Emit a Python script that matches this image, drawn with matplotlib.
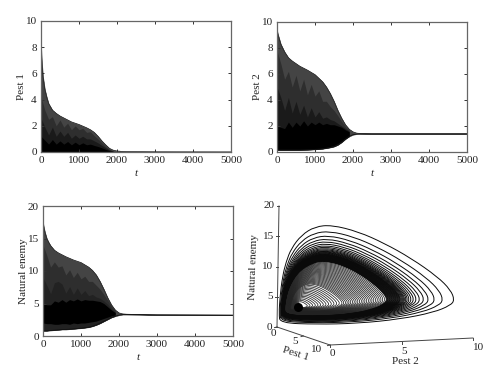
import numpy as np
import matplotlib
matplotlib.use("Agg")
import matplotlib.pyplot as plt
from matplotlib.path import Path
from matplotlib.patches import PathPatch

plt.rcParams['font.family'] = ['Liberation Serif', 'DejaVu Serif']
plt.rcParams['font.size'] = 8

# ---------- time-series envelopes ----------
t = [0, 20, 50, 100, 150, 200, 300, 400, 500, 600, 800, 1000, 1200, 1300, 1400,
     1500, 1600, 1700, 1800, 1900, 2000, 2100, 2200, 2500, 3000, 5000]
pest1_upper = [8.2, 7, 5.8, 4.8, 4.2, 3.7, 3.2, 2.95, 2.75, 2.6, 2.3, 2.1, 1.85, 1.7, 1.5,
               1.2, .85, .55, .28, .14, .08, .05, .04, .03, .02, .01]
pest1_lower = [.02] * 26
pest2_upper = [9.4, 9.1, 8.8, 8.3, 8.0, 7.7, 7.25, 7.0, 6.8, 6.6, 6.3, 5.95, 5.4, 5.0, 4.5,
               3.9, 3.2, 2.6, 2.1, 1.75, 1.55, 1.45, 1.42, 1.4, 1.4, 1.4]
pest2_lower = [.15, .15, .15, .15, .15, .15, .15, .15, .15, .15, .17, .2, .25, .3, .35,
               .42, .55, .75, 1, 1.2, 1.33, 1.38, 1.4, 1.4, 1.4, 1.4]
enemy_upper = [17.5, 16.8, 16, 15, 14.4, 13.9, 13.2, 12.8, 12.5, 12.2, 11.7, 11.3, 10.6, 10.1, 9.4,
               8.4, 7.2, 5.9, 4.8, 4, 3.55, 3.4, 3.35, 3.3, 3.25, 3.2]
enemy_lower = [.8, .8, .8, .8, .85, .85, .9, .95, 1, 1, 1.1, 1.2, 1.35, 1.5, 1.7,
               1.95, 2.25, 2.55, 2.85, 3.05, 3.2, 3.3, 3.3, 3.3, 3.25, 3.2]

# inner, darker overlapping bands (uneven tops)
tj = [0, 100, 200, 300, 400, 500, 600, 700, 800, 900, 1000, 1100, 1200, 1300, 1400,
      1500, 1600, 1700, 1800, 1900]
pest1_mid = [4.2, 3.2, 2.5, 2.7, 2.0, 2.45, 1.9, 2.2, 1.7, 2.0, 1.7, 1.8, 1.5, 1.55, 1.25, 1.0, .7, .42, .2, .08]
pest1_dark = [2.6, 1.9, 1.3, 1.9, 1.2, 1.6, 1.2, 1.5, 1.05, 1.3, 1.05, 1.2, 1.0, 1.0, .85, .7, .5, .32, .15, .06]
pest1_black = [1.2, .9, .6, .95, .6, .85, .6, .8, .55, .75, .55, .7, .55, .6, .5, .42, .32, .2, .1, .04]
pest2_mid = [7.8, 6.8, 5.6, 6.2, 5.0, 5.9, 4.7, 5.6, 4.4, 5.2, 4.3, 4.7, 3.9, 3.9, 3.5, 3.2, 2.8, 2.35, 1.95, 1.7]
pest2_dark = [5.0, 4.2, 3.2, 4.2, 3.0, 3.9, 2.9, 3.6, 2.7, 3.4, 2.7, 3.1, 2.6, 2.7, 2.5, 2.4, 2.2, 2.0, 1.8, 1.6]
pest2_black_top = [2.0, 1.9, 1.8, 2.3, 1.9, 2.3, 2.0, 2.4, 2.0, 2.3, 2.1, 2.3, 2.1, 2.2, 2.1, 2.1, 2.0, 1.9, 1.7, 1.55]
pest2_black_low = [.2, .2, .2, .2, .2, .2, .2, .2, .22, .22, .25, .25, .3, .35, .42, .5, .65, .85, 1.05, 1.25]
enemy_mid = [14, 12.4, 10.6, 11.4, 10.6, 10.8, 9.4, 10.2, 9.0, 9.8, 8.8, 9.2, 8.4, 8.4, 7.8, 7.2, 6.4, 5.5, 4.6, 3.9]
enemy_dark = [9, 7.8, 6.5, 8.2, 8.4, 8.0, 6.6, 7.6, 6.4, 7.4, 6.4, 7, 6.2, 6.4, 6.0, 5.8, 5.4, 4.9, 4.2, 3.7]
enemy_black_top = [5.0, 4.8, 4.8, 5.4, 5.2, 5.6, 5.2, 5.6, 5.4, 5.7, 5.4, 5.6, 5.5, 5.5, 5.4, 5.3, 5.0, 4.5, 4.0, 3.6]
enemy_black_low = [2.0, 1.9, 1.9, 1.8, 1.8, 1.9, 1.9, 1.8, 2.0, 1.9, 2.0, 2.0, 2.1, 2.2, 2.3, 2.5, 2.7, 2.9, 3.1, 3.25]

# ---------- phase portrait: outer and inner loops (pest 1, pest 2, natural enemy) ----------
outer_p1 = [.2, .5, 1.5, 3.5, 6, 8, 8, 7, 5, 3, 2, 1.5, 1, .6, .4, .3, .2, .2, .2, .2]
outer_p2 = [.14, 2.59, 5.02, 7.3, 8.71, 9.13, 9.41, 9.5, 9.31, 8.19, 6.67, 5.02, 3.34, 2.32, 1.46, .8, .49, .25, .1, .05]
outer_n = [.7, .3, .45, 1.5, 3.2, 4.9, 5.75, 7.1, 8.72, 11.3, 13.66, 15.62, 16.77, 16.5, 15.16, 13.0, 10.8, 8.34, 5.06, 2.2]
inner_p1 = [.1, .2, .7, 1.5, 2.5, 3, 3, 2.5, 2, 1.2, .8, .6, .4, .3, .2, .2, .1, .1, .1, .1]
inner_p2 = [.52, 1.53, 3.10, 4.55, 5.58, 6.23, 6.58, 6.49, 5.9, 5.15, 4.32, 3.48, 2.72, 2.06, 1.53, 1.11, .87, .66, .52, .45]
inner_n = [2.12, 1.70, 1.67, 2.07, 2.91, 3.81, 4.59, 5.61, 7.18, 8.69, 9.82, 10.52, 10.71, 10.1, 9.3, 8.2, 7.04, 5.9, 4.43, 3.12]
equilibrium = [.05, 1.4, 3.2]
band_steps = [0, .17, .29, .38, .45, .51, .56, .60, .635, .665, .69, .71, .73, .745, .76, .775, .79,
              .80, .81, .82, .83, .84, .85, .86, .87, .88, .89, .90, .91, .92, .93, .94,
              .95, .96, .97, .98, .99, 1.0]
inner_sizes = [.98, .96, .94, .92, .90, .88, .86, .84, .82, .80, .78, .76, .74, .72, .70, .68, .66, .64,
               .62, .60, .58, .56, .54, .52, .50, .47, .44, .41, .38, .35, .32, .29, .26, .23, .20,
               .17, .14, .11]


def style(ax, ylim, yticks, ylabel, pad):
    ax.set_xlim(0, 5000)
    ax.set_ylim(*ylim)
    ax.set_xticks([0, 1000, 2000, 3000, 4000, 5000])
    ax.set_yticks(yticks)
    ax.tick_params(direction='in', length=2, width=.7, top=True, right=True, pad=3,
                   color='#333333', labelsize=8, labelcolor='#222222')
    for s in ax.spines.values():
        s.set_linewidth(.9)
        s.set_color('#666666')
    ax.set_xlabel('t', style='italic', fontsize=8, labelpad=3, color='#222222')
    ax.set_ylabel(ylabel, fontsize=8, labelpad=pad, color='#222222')


def panel(rect, up, low, layers, ylim, yticks, ylabel, pad):
    ax = fig.add_axes([rect[0] / 500, 1 - rect[3] / 384, (rect[2] - rect[0]) / 500, (rect[3] - rect[1]) / 384])
    ax.fill_between(t, low, up, color='#444444', lw=.4)
    for lo, hi, col in layers:
        ax.fill_between(tj, lo, hi, color=col, lw=0)
    ax.plot(t, up, color='#222222', lw=.5)
    ax.plot(t, low, color='#111111', lw=.6)
    style(ax, ylim, yticks, ylabel, pad)
    return ax


fig = plt.figure(figsize=(5, 3.84), dpi=100)

zero = [0] * len(tj)
panel((41, 21, 231, 152), pest1_upper, pest1_lower,
      [(zero, pest1_mid, '#2e2e2e'), (zero, pest1_dark, '#1a1a1a'), (zero, pest1_black, '#000000')],
      (0, 10), [0, 2, 4, 6, 8, 10], 'Pest 1', 0)
lo2 = np.interp(tj, t, pest2_lower)
panel((277, 22, 467, 152), pest2_upper, pest2_lower,
      [(lo2, pest2_mid, '#2e2e2e'), (lo2, pest2_dark, '#1a1a1a'), (pest2_black_low, pest2_black_top, '#000000')],
      (0, 10), [0, 2, 4, 6, 8, 10], 'Pest 2', 0)
lo3 = np.interp(tj, t, enemy_lower)
panel((43, 206, 233, 336), enemy_upper, enemy_lower,
      [(lo3, enemy_mid, '#2e2e2e'), (lo3, enemy_dark, '#222222'), (enemy_black_low, enemy_black_top, '#000000')],
      (0, 20), [0, 5, 10, 15, 20], 'Natural enemy', 0)

# ---------- phase portrait ----------
ax = fig.add_axes([.5, 0, .5, .5])
ax.set_xlim(250, 500)
ax.set_ylim(384, 192)
ax.axis('off')


def project(p1, p2, n):
    p1, p2, n = np.asarray(p1, float), np.asarray(p2, float), np.asarray(n, float)
    return 277 + 5.3 * p1 + 14.3 * p2 + .1 * n, 327 + 1.8 * p1 - .7 * p2 - 6.05 * n


def smooth_closed(x, y):
    pts = np.column_stack([x, y])
    nxt = np.roll(pts, -1, axis=0)
    mids = (pts + nxt) / 2
    verts = [mids[-1]]
    codes = [Path.MOVETO]
    for i in range(len(pts)):
        verts += [pts[i], mids[i]]
        codes += [Path.CURVE3, Path.CURVE3]
    return Path(verts, codes)


def draw_loop(p1, p2, n, lw, col):
    x, y = project(p1, p2, n)
    ax.add_patch(PathPatch(smooth_closed(x, y), fc='none', ec=col, lw=lw))


op1, op2, on = np.array(outer_p1), np.array(outer_p2), np.array(outer_n)
ip1, ip2, in_ = np.array(inner_p1), np.array(inner_p2), np.array(inner_n)
for s in inner_sizes:
    draw_loop(equilibrium[0] + s * (ip1 - equilibrium[0]),
              equilibrium[1] + s * (ip2 - equilibrium[1]),
              equilibrium[2] + s * (in_ - equilibrium[2]), .55, '#222222')
for w in band_steps:
    draw_loop(op1 + w * (ip1 - op1), op2 + w * (ip2 - op2), on + w * (in_ - on), .7, '#0a0a0a')
ax.plot(*project([equilibrium[0]], [equilibrium[1]], [equilibrium[2]]), 'o', ms=6.5, color='black', mew=0)

axc = '#444444'
x, y = project([0, 0], [0, 0], [0, 20])
ax.plot(x, y, color=axc, lw=.7)
x, y = project([0, 10], [0, 0], [0, 0])
ax.plot(x, y, color=axc, lw=.7)
x, y = project([10, 10], [0, 10], [0, 0])
ax.plot(x, y, color=axc, lw=.7)
for v in [0, 5, 10, 15, 20]:
    x, y = project(0, 0, v)
    ax.plot([x - 2.5, x], [y, y], color=axc, lw=.7)
    ax.text(x - 4.5, y, str(v), ha='right', va='center', fontsize=8, color='#222222')
for v, (lx, ly) in zip([0, 5, 10], [(273, 334), (295, 342), (317, 350)]):
    x, y = project(v, 0, 0)
    ax.plot([x, x - 2.5], [y, y + .6], color=axc, lw=.7)
    ax.text(lx, ly, str(v), ha='center', va='center', fontsize=8, color='#222222')
for v, (lx, ly) in zip([0, 5, 10], [(332, 353), (404, 351), (479, 348)]):
    x, y = project(10, v, 0)
    ax.plot([x, x], [y, y + 2], color=axc, lw=.7)
    ax.text(lx, ly, str(v), ha='center', va='center', fontsize=8, color='#222222')
ax.text(296, 354, 'Pest 1', rotation=-18, ha='center', va='center', fontsize=8, color='#222222')
ax.text(405, 361, 'Pest 2', ha='center', va='center', fontsize=8, color='#222222')
ax.text(254, 267, 'Natural enemy', rotation=88, ha='center', va='center', fontsize=8, color='#222222')

fig.savefig('out.png', dpi=100)
